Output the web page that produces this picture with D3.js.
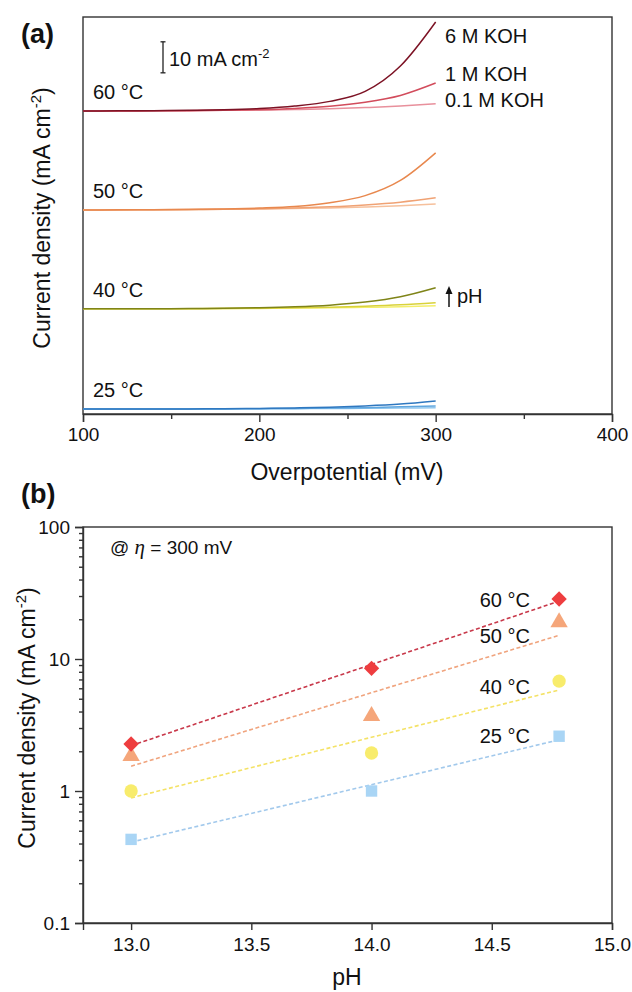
<!DOCTYPE html>
<html>
<head>
<meta charset="utf-8">
<script src="https://cdn.jsdelivr.net/npm/d3@7"></script>
<style>
  body { margin: 0; background: #fff; }
  svg { font-family: "Liberation Sans", Arial, sans-serif; }
</style>
</head>
<body>
<script>
// ---- panel (a) data: polarization curves, current density (mA cm-2) vs overpotential (mV)
var eta = [100, 120, 140, 160, 180, 200, 220, 240, 260, 280, 300];
var temps = ["25 °C", "40 °C", "50 °C", "60 °C"];
var electrolytes = ["0.1 M KOH", "1 M KOH", "6 M KOH"];
// vertical offset of each temperature group (mA cm-2)
var offsets = [1.6, 33.9, 65.8, 97.7];

var j25_01 = [0, 0, 0, 0.03, 0.05, 0.08, 0.12, 0.17, 0.24, 0.32, 0.43];
var j25_1  = [0, 0, 0, 0, 0.05, 0.1, 0.2, 0.3, 0.45, 0.7, 1.0];
var j25_6  = [0, 0, 0, 0.05, 0.1, 0.2, 0.35, 0.6, 1.0, 1.6, 2.6];
var j40_01 = [0, 0, 0, 0.05, 0.1, 0.15, 0.25, 0.35, 0.5, 0.7, 1.0];
var j40_1  = [0, 0, 0, 0.05, 0.1, 0.2, 0.35, 0.55, 0.85, 1.3, 2.0];
var j40_6  = [0, 0, 0.05, 0.1, 0.2, 0.35, 0.65, 1.2, 2.2, 3.9, 6.8];
var j50_01 = [0, 0, 0.05, 0.1, 0.2, 0.3, 0.45, 0.65, 0.95, 1.35, 1.9];
var j50_1  = [0, 0, 0.05, 0.1, 0.2, 0.35, 0.6, 1.0, 1.6, 2.5, 3.9];
var j50_6  = [0, 0.03, 0.08, 0.15, 0.3, 0.6, 1.1, 2.3, 4.6, 9.5, 18.4];
var j60_01 = [0, 0, 0.05, 0.1, 0.2, 0.3, 0.45, 0.7, 1.1, 1.6, 2.3];
var j60_1  = [0, 0, 0.05, 0.1, 0.2, 0.4, 0.8, 1.5, 2.8, 5.0, 9.0];
var j60_6  = [0, 0.05, 0.1, 0.2, 0.4, 0.8, 1.6, 3.1, 6.3, 14.5, 28.7];

// ---- panel (b) data: current density at 300 mV vs pH
var pH = [13.0, 14.0, 14.78];
var jb25 = [0.43, 1.0, 2.6];
var jb40 = [1.0, 1.94, 6.8];
var jb50 = [1.84, 3.7, 19];
var jb60 = [2.27, 8.5, 28.5];

var curveSets = [[j25_01, j25_1, j25_6], [j40_01, j40_1, j40_6], [j50_01, j50_1, j50_6], [j60_01, j60_1, j60_6]];
var curveColors = [
  ["#92c8ef", "#5fa6df", "#2f78c0"],
  ["#f3ee6a", "#d9d23a", "#7f8418"],
  ["#f6c09c", "#f0a274", "#e8884e"],
  ["#e8909c", "#d24c5c", "#7c1224"]
];
var bSeries = [jb25, jb40, jb50, jb60];
var markerFill = ["#a9d5f5", "#f8ec6c", "#f5a67a", "#ee3d3f"];
var fitColor = ["#a2c9ec", "#f4e266", "#f0a47e", "#c8384a"];
var markerShape = [d3.symbolSquare, d3.symbolCircle, d3.symbolTriangle, d3.symbolSquare];
var markerSize = [130, 140, 130, 118];
var markerRot = [0, 0, 0, 45];

var W = 632, H = 992;
var svg = d3.select("body").append("svg").attr("width", W).attr("height", H);
var axisCol = "#333";

// ================= panel (a) =================
var ax = d3.scaleLinear().domain([100, 400]).range([83, 612]);
var ay = d3.scaleLinear().domain([0, 128]).range([414, 17]);

var ga = svg.append("g");
ga.append("rect").attr("x", 83).attr("y", 17).attr("width", 612 - 83).attr("height", 414 - 17)
  .attr("fill", "none").attr("stroke", axisCol).attr("stroke-width", 1.4);

var xAxisA = ga.append("g").attr("transform", "translate(0,414)")
  .call(d3.axisBottom(ax).tickValues([100, 200, 300, 400]).tickSize(8).tickPadding(6).tickFormat(d3.format("d")));
ga.append("g").attr("transform", "translate(0,414)")
  .call(d3.axisBottom(ax).tickValues([150, 250, 350]).tickSize(5).tickFormat(""))
  .call(function (g) { g.select(".domain").remove(); });
ga.selectAll(".tick line").attr("stroke", axisCol).attr("stroke-width", 1.4);
xAxisA.select(".domain").attr("stroke", axisCol).attr("stroke-width", 1.4);
xAxisA.selectAll("text").attr("font-size", 19).attr("fill", "#111")
  .attr("font-family", "Liberation Sans, Arial, sans-serif");

var line = d3.line()
  .x(function (d) { return ax(d[0]); })
  .y(function (d) { return ay(d[1]); })
  .curve(d3.curveMonotoneX);

curveSets.forEach(function (set, ti) {
  set.forEach(function (vals, ei) {
    var pts = eta.map(function (e, k) { return [e, vals[k] + offsets[ti]]; });
    ga.append("path").attr("d", line(pts)).attr("fill", "none")
      .attr("stroke", curveColors[ti][ei]).attr("stroke-width", 1.5);
  });
  ga.append("text").attr("x", 93).attr("y", ay(offsets[ti]) - 12)
    .attr("font-size", 20).attr("fill", "#111").text(temps[ti]);
});

// electrolyte labels next to the 60 °C curves
var elY = [107, 81, 43];
electrolytes.forEach(function (t, i) {
  ga.append("text").attr("x", 445).attr("y", elY[i]).attr("font-size", 20).attr("fill", "#111").text(t);
});

// scale bar 10 mA cm-2
var sbBase = 110;
var sbx = 163;
ga.append("line").attr("x1", sbx).attr("x2", sbx).attr("y1", ay(sbBase)).attr("y2", ay(sbBase + 10))
  .attr("stroke", "#222").attr("stroke-width", 1.3);
[sbBase, sbBase + 10].forEach(function (v) {
  ga.append("line").attr("x1", sbx - 2.5).attr("x2", sbx + 2.5).attr("y1", ay(v)).attr("y2", ay(v))
    .attr("stroke", "#222").attr("stroke-width", 1.3);
});
var sbt = ga.append("text").attr("x", 169).attr("y", 66).attr("font-size", 20).attr("fill", "#111");
sbt.append("tspan").text("10 mA cm");
sbt.append("tspan").attr("dy", -8).attr("font-size", 13).text("-2");

// pH arrow
ga.append("line").attr("x1", 449).attr("x2", 449).attr("y1", 307).attr("y2", 291)
  .attr("stroke", "#111").attr("stroke-width", 1.5);
ga.append("path").attr("d", "M449,286 L445.5,294 L452.5,294 Z").attr("fill", "#111");
ga.append("text").attr("x", 457).attr("y", 303).attr("font-size", 20).attr("fill", "#111").text("pH");

// titles
ga.append("text").attr("x", 347).attr("y", 480).attr("text-anchor", "middle")
  .attr("font-size", 23).attr("fill", "#111").text("Overpotential (mV)");
var yta = ga.append("text").attr("transform", "translate(50,218) rotate(-90)").attr("text-anchor", "middle")
  .attr("font-size", 23).attr("fill", "#111");
yta.append("tspan").text("Current density (mA cm");
yta.append("tspan").attr("dy", -9).attr("font-size", 15).text("-2");
yta.append("tspan").attr("dy", 9).text(")");
ga.append("text").attr("x", 21).attr("y", 43).attr("font-size", 27).attr("font-weight", "bold")
  .attr("fill", "#111").text("(a)");

// ================= panel (b) =================
var bx = d3.scaleLinear().domain([12.8, 15.0]).range([83, 612]);
var by = d3.scaleLog().domain([0.1, 100]).range([923, 527]);

var gb = svg.append("g");
gb.append("rect").attr("x", 83).attr("y", 527).attr("width", 612 - 83).attr("height", 923 - 527)
  .attr("fill", "none").attr("stroke", axisCol).attr("stroke-width", 1.4);

var xAxisB = gb.append("g").attr("transform", "translate(0,923)")
  .call(d3.axisBottom(bx).tickValues([13.0, 13.5, 14.0, 14.5, 15.0]).tickSize(7).tickPadding(8)
    .tickFormat(d3.format(".1f")));
var yAxisB = gb.append("g").attr("transform", "translate(83,0)")
  .call(d3.axisLeft(by).tickValues([0.1, 1, 10, 100]).tickSize(8).tickPadding(5)
    .tickFormat(function (d) { return d < 1 ? "0.1" : d3.format("d")(d); }));
var minor = [];
[0.1, 1, 10].forEach(function (dec) {
  for (var m = 2; m <= 9; m++) minor.push(dec * m);
});
gb.append("g").attr("transform", "translate(83,0)")
  .call(d3.axisLeft(by).tickValues(minor).tickSize(4).tickFormat(""))
  .call(function (g) { g.select(".domain").remove(); });
gb.selectAll(".domain").attr("stroke", axisCol).attr("stroke-width", 1.4);
gb.selectAll(".tick line").attr("stroke", axisCol).attr("stroke-width", 1.4);
gb.selectAll(".tick text").attr("font-size", 19).attr("fill", "#111")
  .attr("font-family", "Liberation Sans, Arial, sans-serif");

// least-squares fit in log space, drawn dashed
bSeries.forEach(function (vals, i) {
  var ly = vals.map(function (v) { return Math.log10(v); });
  var mx = d3.mean(pH), my = d3.mean(ly);
  var sxy = d3.sum(pH, function (p, k) { return (p - mx) * (ly[k] - my); });
  var sxx = d3.sum(pH, function (p) { return (p - mx) * (p - mx); });
  var slope = sxy / sxx, icpt = my - slope * mx;
  var x0 = pH[0], x1 = pH[pH.length - 1];
  gb.append("line")
    .attr("x1", bx(x0)).attr("y1", by(Math.pow(10, icpt + slope * x0)))
    .attr("x2", bx(x1)).attr("y2", by(Math.pow(10, icpt + slope * x1)))
    .attr("stroke", fitColor[i]).attr("stroke-width", 1.6).attr("stroke-dasharray", "4,2.5");
});

bSeries.forEach(function (vals, i) {
  gb.selectAll(null).data(vals).enter().append("path")
    .attr("d", d3.symbol().type(markerShape[i]).size(markerSize[i]))
    .attr("transform", function (d, k) {
      return "translate(" + bx(pH[k]) + "," + by(d) + ") rotate(" + markerRot[i] + ")";
    })
    .attr("fill", markerFill[i]);
});

var bLabelY = [743, 694, 643, 607];
temps.forEach(function (t, i) {
  gb.append("text").attr("x", 530).attr("y", bLabelY[i]).attr("text-anchor", "end")
    .attr("font-size", 20).attr("fill", "#111").text(t);
});

var at = gb.append("text").attr("x", 110).attr("y", 554).attr("font-size", 19).attr("fill", "#111");
at.append("tspan").text("@ ");
at.append("tspan").attr("font-family", "Liberation Serif, serif").attr("font-style", "italic")
  .attr("font-size", 21).text("η");
at.append("tspan").text(" = 300 mV");

gb.append("text").attr("x", 347).attr("y", 985).attr("text-anchor", "middle")
  .attr("font-size", 23).attr("fill", "#111").text("pH");
var ytb = gb.append("text").attr("transform", "translate(35,718) rotate(-90)").attr("text-anchor", "middle")
  .attr("font-size", 23).attr("fill", "#111");
ytb.append("tspan").text("Current density (mA cm");
ytb.append("tspan").attr("dy", -9).attr("font-size", 15).text("-2");
ytb.append("tspan").attr("dy", 9).text(")");
gb.append("text").attr("x", 21).attr("y", 503).attr("font-size", 27).attr("font-weight", "bold")
  .attr("fill", "#111").text("(b)");
</script>
</body>
</html>
